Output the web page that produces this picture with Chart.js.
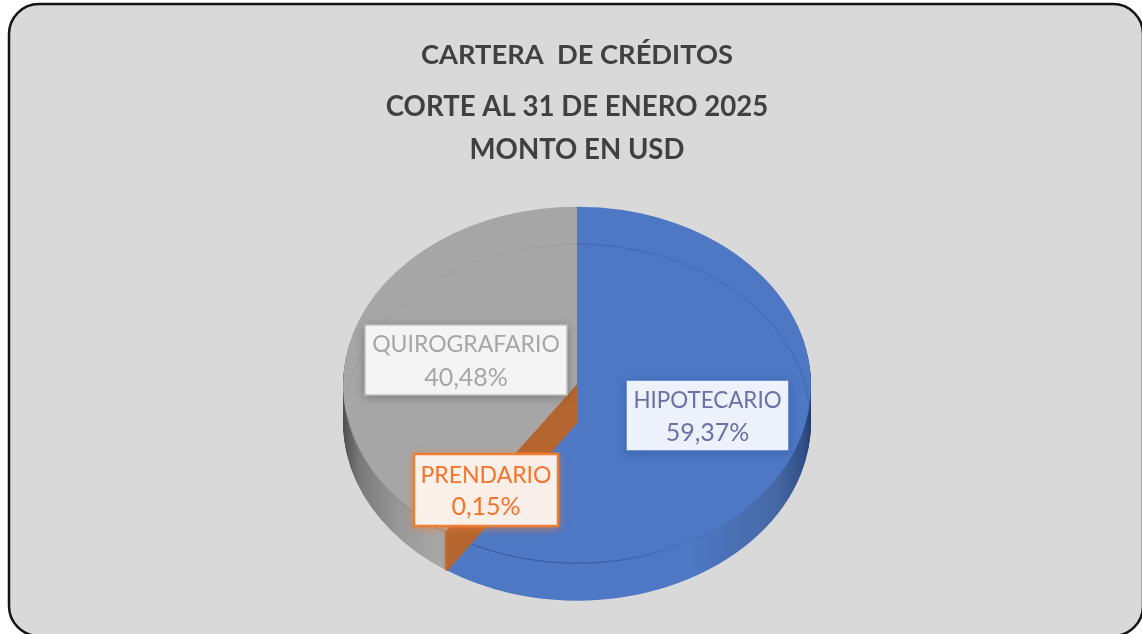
<!DOCTYPE html>
<html>
<head>
<meta charset="utf-8">
<title>Cartera de créditos</title>
<script src="https://cdn.jsdelivr.net/npm/chart.js@4"></script>
<style>
  html, body { margin: 0; padding: 0; background: #fff; overflow: hidden; }
  #wrap { position: relative; width: 1142px; height: 634px; }
  #chart { filter: blur(0.4px); }
</style>
</head>
<body>
<div id="wrap"><canvas id="chart" width="1142" height="634"></canvas></div>
<script>
const categories = ['HIPOTECARIO', 'PRENDARIO', 'QUIROGRAFARIO'];
const shares = [59.37, 0.15, 40.48];
const titleLine = 'CARTERA  DE CRÉDITOS';
const subtitleLines = ['CORTE AL 31 DE ENERO 2025', 'MONTO EN USD'];

const topColors = ['#4E78C4', '#B5652F', '#A6A6A6'];
const FONT = 'Lato, Carlito, sans-serif';
const SQUASH = 178.5 / 234;
const DEPTH = 37;

// label boxes as they sit in the picture
const labelStyles = [
    { x: 626, y: 380, w: 163, h: 71, fill: '#EDF1F9', border: '#4472C4', bw: 1.5, text: '#6C70A8', glow: 'rgba(30,50,110,0.35)', size: 22.4, l1: 401, l2: 433 },
    { x: 414, y: 454, w: 144, h: 72, fill: 'rgba(255,255,255,0.88)', border: '#ED7D31', bw: 2.5, text: '#F4742B', glow: 'rgba(237,125,49,0.85)', size: 23, l1: 476, l2: 507 },
    { x: 365, y: 325, w: 202, h: 70, fill: '#F4F4F4', border: '#BFBFBF', bw: 1.5, text: '#A6A6A6', glow: 'rgba(0,0,0,0.3)', size: 23, l1: 345, l2: 378 }
];

function drawAt(ctx, arc, offset, fill, border) {
    const saved = arc.options;
    arc.options = Object.assign({}, saved, {
        backgroundColor: fill,
        borderWidth: border ? 1.2 : 0,
        borderColor: border || fill,
        borderJoinStyle: 'round'
    });
    ctx.save();
    ctx.translate(arc.x, arc.y + offset);
    ctx.scale(1, SQUASH);
    ctx.translate(-arc.x, -arc.y);
    arc.draw(ctx);
    ctx.restore();
    arc.options = saved;
}

function rim(ctx, arc, offset, from, to, color) {
    ctx.save();
    ctx.translate(arc.x, arc.y + offset);
    ctx.scale(1, SQUASH);
    ctx.beginPath();
    ctx.arc(0, 0, arc.outerRadius - 0.5, from, to);
    ctx.restore();
    ctx.strokeStyle = color;
    ctx.lineWidth = 1;
    ctx.stroke();
}

const pie3d = {
    id: 'pie3d',
    beforeDraw(chart) {
        const ctx = chart.ctx;
        ctx.save();
        ctx.fillStyle = '#fff';
        ctx.fillRect(0, 0, chart.width, chart.height);
        ctx.beginPath();
        ctx.roundRect(9, 4, 1134, 632, 30);
        ctx.fillStyle = '#D9D9D9';
        ctx.fill();
        ctx.strokeStyle = '#141414';
        ctx.lineWidth = 2.5;
        ctx.stroke();
        ctx.restore();
    },
    beforeDatasetDraw(chart) {
        const ctx = chart.ctx;
        const arcs = chart.getDatasetMeta(0).data;
        const blue = arcs[0], orange = arcs[1], grey = arcs[2];
        const left = blue.x - blue.outerRadius, right = blue.x + blue.outerRadius;
        const span = right - left;
        const stop = x => (x - left) / span;

        const blueWall = ctx.createLinearGradient(left, 0, right, 0);
        blueWall.addColorStop(0, '#4E78C4');
        blueWall.addColorStop(stop(690), '#4E78C4');
        blueWall.addColorStop(stop(775), '#4669A5');
        blueWall.addColorStop(stop(803), '#32508A');
        blueWall.addColorStop(1, '#26406E');

        const greyWall = ctx.createLinearGradient(left, 0, right, 0);
        greyWall.addColorStop(0, '#4F4F4F');
        greyWall.addColorStop(stop(360), '#7A7A7A');
        greyWall.addColorStop(stop(400), '#999999');
        greyWall.addColorStop(stop(435), '#A6A6A6');
        greyWall.addColorStop(1, '#A6A6A6');

        const orangeFill = ctx.createLinearGradient(orange.x - 134, 0, orange.x - 124, 0);
        orangeFill.addColorStop(0, '#E2752E');
        orangeFill.addColorStop(0.5, '#B5652F');
        orangeFill.addColorStop(1, '#B5652F');

        const rimLine = ctx.createLinearGradient(left, 0, right, 0);
        rimLine.addColorStop(0, 'rgba(60,60,60,0.3)');
        rimLine.addColorStop(stop(445), 'rgba(60,60,60,0.3)');
        rimLine.addColorStop(stop(450), 'rgba(25,45,105,0.45)');
        rimLine.addColorStop(stop(600), 'rgba(25,45,105,0.45)');
        rimLine.addColorStop(stop(720), 'rgba(25,45,105,0)');
        rimLine.addColorStop(1, 'rgba(25,45,105,0)');

        for (let d = DEPTH; d >= 1; d--) {
            drawAt(ctx, grey, d, greyWall);
            drawAt(ctx, blue, d, blueWall);
        }
        drawAt(ctx, grey, 0, topColors[2]);
        drawAt(ctx, blue, 0, topColors[0]);

        // faint bevel lines
        rim(ctx, blue, DEPTH, Math.PI, Math.PI * 1.5, 'rgba(0,0,0,0.05)');
        rim(ctx, blue, DEPTH, Math.PI * 1.5, Math.PI * 2, 'rgba(20,40,110,0.2)');
        rim(ctx, blue, 0, Math.PI * 0.1, Math.PI * 0.95, rimLine);

        // the thin slice is extruded over the blue top, as in the original
        for (let d = DEPTH; d >= 0; d -= 0.5) {
            drawAt(ctx, orange, d, orangeFill, orangeFill);
        }
        return false;
    },
    afterDraw(chart) {
        const ctx = chart.ctx;
        categories.forEach((name, i) => {
            const s = labelStyles[i];
            ctx.save();
            ctx.shadowColor = s.glow;
            ctx.shadowBlur = 9;
            ctx.shadowOffsetY = 2;
            ctx.fillStyle = s.fill;
            ctx.fillRect(s.x, s.y, s.w, s.h);
            ctx.shadowColor = 'transparent';
            ctx.strokeStyle = s.border;
            ctx.lineWidth = s.bw;
            ctx.strokeRect(s.x, s.y, s.w, s.h);
            ctx.fillStyle = s.text;
            ctx.textAlign = 'center';
            ctx.textBaseline = 'middle';
            const cx = s.x + s.w / 2;
            ctx.font = s.size + 'px ' + FONT;
            ctx.fillText(name, cx, s.l1);
            ctx.font = '25px ' + FONT;
            ctx.fillText(shares[i].toFixed(2).replace('.', ',') + '%', cx, s.l2);
            ctx.restore();
        });
    }
};

new Chart(document.getElementById('chart').getContext('2d'), {
    type: 'pie',
    data: {
        labels: categories,
        datasets: [{
            data: shares,
            backgroundColor: topColors,
            borderWidth: 0,
            radius: 234
        }]
    },
    options: {
        responsive: false,
        animation: false,
        layout: { padding: { left: 12, right: 0, top: 0, bottom: 36 } },
        plugins: {
            legend: { display: false },
            tooltip: { enabled: false },
            title: {
                display: true,
                text: titleLine,
                color: '#404040',
                font: { family: FONT, size: 27.3, weight: 'bold', lineHeight: 1 },
                padding: { top: 42, bottom: 16 }
            },
            subtitle: {
                display: true,
                text: subtitleLines,
                color: '#404040',
                font: { family: FONT, size: 27.6, weight: 'bold', lineHeight: 43.5 / 27.6 },
                padding: { top: 0, bottom: 0 }
            }
        }
    },
    plugins: [pie3d]
});
</script>
</body>
</html>
